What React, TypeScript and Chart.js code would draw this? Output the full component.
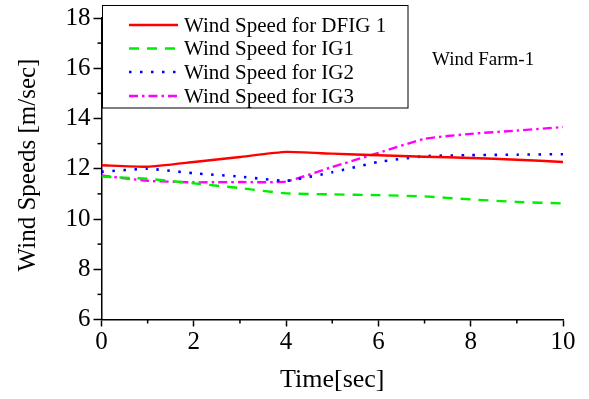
import React, { useEffect, useRef } from "react";
import { Chart, registerables } from "chart.js";

Chart.register(...registerables);

// Time axis (seconds)
const timeSec = [0, 1, 2, 3, 4, 5, 6, 7, 8, 9, 10];

// Wind speeds [m/sec] per generator
const dfig1 = [12.14, 12.08, 12.27, 12.47, 12.67, 12.6, 12.54, 12.48, 12.43, 12.36, 12.27];
const ig1 = [11.69, 11.6, 11.42, 11.23, 11.02, 10.98, 10.95, 10.9, 10.78, 10.68, 10.62];
const ig2 = [11.88, 12.0, 11.82, 11.69, 11.52, 11.86, 12.27, 12.5, 12.54, 12.56, 12.58];
const ig3 = [11.73, 11.52, 11.46, 11.47, 11.49, 12.07, 12.63, 13.19, 13.39, 13.52, 13.66];

const seriesLabels = [
  "Wind Speed for DFIG 1",
  "Wind Speed for IG1",
  "Wind Speed for IG2",
  "Wind Speed for IG3",
];

const xTitle = "Time[sec]";
const yTitle = "Wind Speeds [m/sec]";
const farmLabel = "Wind Farm-1";

const SERIF = "'Liberation Serif', 'Times New Roman', serif";

// Short minor ticks at odd values plus axis titles and the framed legend
const decorPlugin = {
  id: "decor",
  afterDraw(chart: any) {
    const ctx = chart.ctx;
    const xs = chart.scales.x;
    const ys = chart.scales.y;
    const area = chart.chartArea;
    ctx.save();
    ctx.strokeStyle = "#000";
    ctx.lineWidth = 1.5;
    // minor ticks
    for (let v = 1; v < 10; v += 2) {
      const px = xs.getPixelForValue(v);
      ctx.beginPath();
      ctx.moveTo(px, area.bottom);
      ctx.lineTo(px, area.bottom + 4);
      ctx.stroke();
    }
    for (let v = 7; v < 18; v += 2) {
      const py = ys.getPixelForValue(v);
      ctx.beginPath();
      ctx.moveTo(area.left, py);
      ctx.lineTo(area.left - 4, py);
      ctx.stroke();
    }

    // axis titles
    ctx.fillStyle = "#000";
    ctx.font = `26px ${SERIF}`;
    ctx.textAlign = "center";
    ctx.textBaseline = "middle";
    ctx.fillText(xTitle, (area.left + area.right) / 2, 380);
    ctx.save();
    ctx.translate(28, 165);
    ctx.rotate(-Math.PI / 2);
    ctx.font = `25px ${SERIF}`;
    ctx.fillText(yTitle, 0, 0);
    ctx.restore();

    // annotation
    ctx.font = `19px ${SERIF}`;
    ctx.textAlign = "left";
    ctx.fillText(farmLabel, 432, 60);

    // legend
    ctx.fillStyle = "#fff";
    ctx.fillRect(102, 5.5, 306, 102.5);
    ctx.lineWidth = 1;
    ctx.strokeStyle = "#000";
    ctx.strokeRect(102.5, 5.5, 305.5, 102.5);
    const rowsY = [25, 48.5, 72, 96];
    chart.data.datasets.forEach((ds: any, i: number) => {
      const y = rowsY[i];
      ctx.save();
      ctx.strokeStyle = ds.borderColor;
      ctx.lineWidth = ds.borderWidth;
      ctx.setLineDash(ds.borderDash || []);
      ctx.beginPath();
      ctx.moveTo(129, y);
      ctx.lineTo(178, y);
      ctx.stroke();
      ctx.restore();
      ctx.fillStyle = "#000";
      ctx.font = `21px ${SERIF}`;
      ctx.textAlign = "left";
      ctx.textBaseline = "middle";
      ctx.fillText(ds.label, 184, y + 1);
    });
    ctx.restore();
  },
};

export default function App() {
  const canvasRef = useRef<HTMLCanvasElement | null>(null);

  useEffect(() => {
    const canvas = canvasRef.current;
    if (!canvas) return;
    const mk = (i: number, data: number[], color: string, dash: number[], width: number) => ({
      label: seriesLabels[i],
      data: data.map((v, k) => ({ x: timeSec[k], y: v })),
      borderColor: color,
      backgroundColor: color,
      borderWidth: width,
      borderDash: dash,
      pointRadius: 0,
      tension: 0.15,
      fill: false,
    });
    const chart = new Chart(canvas, {
      type: "line",
      data: {
        datasets: [
          mk(0, dfig1, "#ff0000", [], 2.4),
          mk(1, ig1, "#00ee00", [10, 8], 2.4),
          mk(2, ig2, "#0000ff", [2.5, 8.5], 2.6),
          mk(3, ig3, "#ff00ff", [9, 4, 2.5, 4], 2.4),
        ],
      },
      options: {
        responsive: false,
        animation: false,
        devicePixelRatio: 1,
        layout: { padding: { top: 15, right: 26, left: 0, bottom: 0 } },
        plugins: { legend: { display: false }, tooltip: { enabled: false } },
        scales: {
          x: {
            type: "linear",
            min: 0,
            max: 10,
            afterFit: (s: any) => {
              s.height = 79.5;
            },
            border: { display: true, color: "#000", width: 1.5 },
            grid: {
              drawOnChartArea: false,
              drawTicks: true,
              tickLength: 7,
              tickWidth: 1.5,
              tickColor: (c: any) => (c.tick && c.tick.value % 2 === 0 ? "#000" : "rgba(0,0,0,0)"),
            },
            ticks: {
              stepSize: 1,
              padding: 1,
              color: "#000",
              font: { family: SERIF, size: 25 },
              maxRotation: 0,
              callback: (v: any) => (Number(v) % 2 === 0 ? String(v) : ""),
            },
          },
          y: {
            type: "linear",
            min: 6,
            max: 18,
            afterFit: (s: any) => {
              s.width = 101.5;
            },
            border: { display: true, color: "#000", width: 1.5 },
            grid: {
              drawOnChartArea: false,
              drawTicks: true,
              tickLength: 8,
              tickWidth: 1.5,
              tickColor: (c: any) => (c.tick && c.tick.value % 2 === 0 ? "#000" : "rgba(0,0,0,0)"),
            },
            ticks: {
              stepSize: 1,
              padding: 3,
              color: "#000",
              font: { family: SERIF, size: 25 },
              callback: (v: any) => (Number(v) % 2 === 0 ? String(v) : ""),
            },
          },
        },
      },
      plugins: [decorPlugin],
    });
    return () => chart.destroy();
  }, []);

  return (
    <div style={{ position: "fixed", left: 0, top: 0, width: 589, height: 399, background: "#fff" }}>
      <canvas ref={canvasRef} width={589} height={399} style={{ display: "block" }} />
    </div>
  );
}
